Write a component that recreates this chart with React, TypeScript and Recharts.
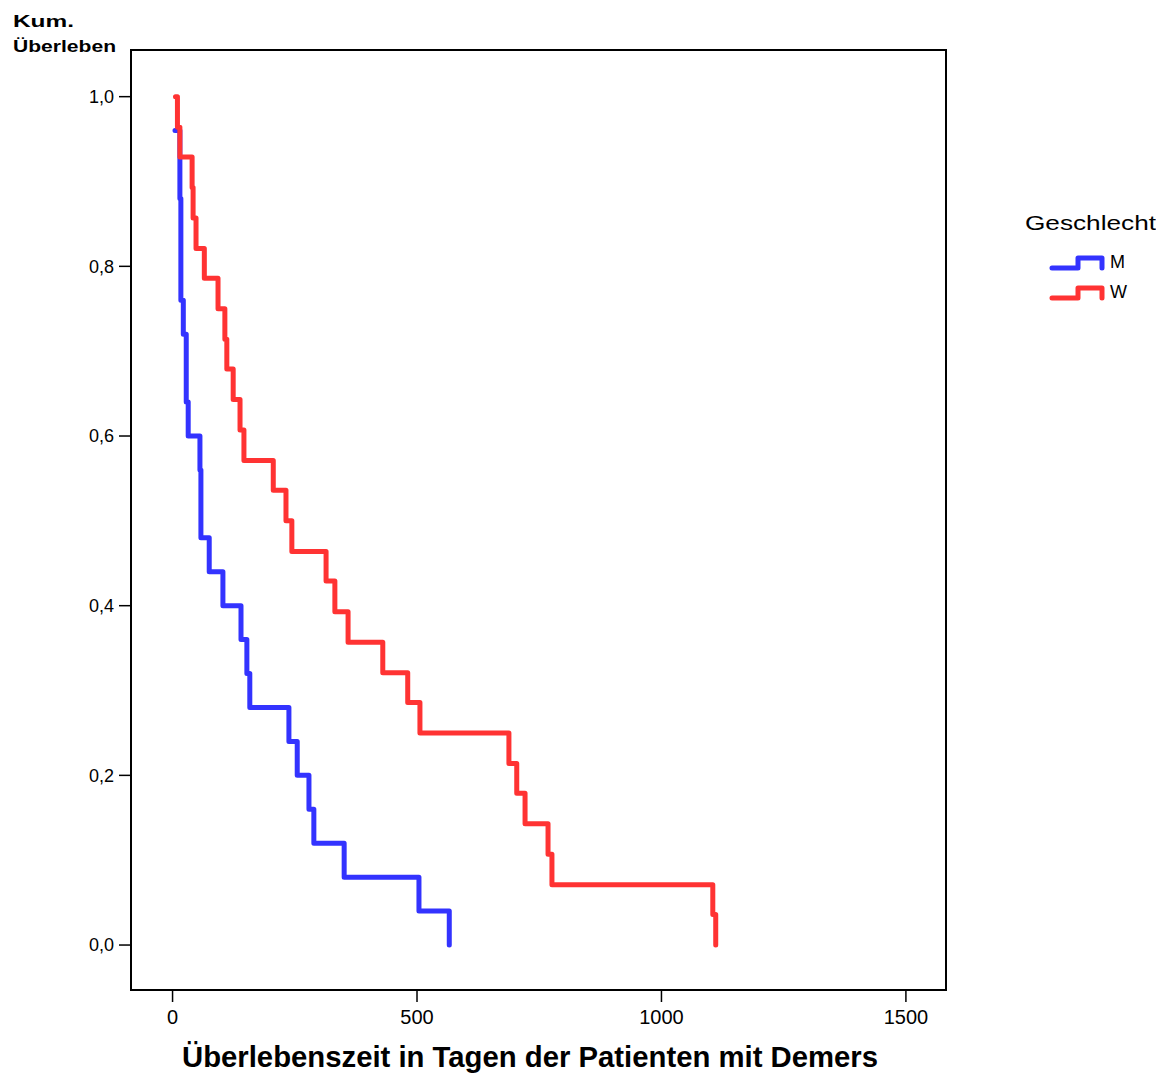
import { LineChart, Line, XAxis, YAxis, ReferenceArea } from 'recharts';

// Kaplan-Meier steps, time in days / cumulative survival
const mTimes = [5, 15, 17, 22, 28, 32, 56, 58, 75, 103, 140, 152, 158, 238, 255, 279, 289, 351, 504, 566];
const mSurvival = [0.96, 0.88, 0.76, 0.72, 0.64, 0.6, 0.56, 0.48, 0.44, 0.4, 0.36, 0.32, 0.28, 0.24, 0.2, 0.16, 0.12, 0.08, 0.04, 0];

const wTimes = [6, 10, 15, 40, 42, 48, 65, 93, 107, 111, 124, 138, 146, 206, 232, 244, 314, 332, 359, 430, 481, 506, 688, 704, 721, 768, 776, 1105, 1111];
const wSurvival = [1.0, 0.964, 0.929, 0.893, 0.857, 0.821, 0.786, 0.75, 0.714, 0.679, 0.643, 0.607, 0.571, 0.536, 0.5, 0.464, 0.429, 0.393, 0.357, 0.321, 0.286, 0.25, 0.214, 0.179, 0.143, 0.107, 0.071, 0.036, 0];

const xTicks = [0, 500, 1000, 1500];
const yTicks = [0, 0.2, 0.4, 0.6, 0.8, 1.0];

const series = [
  { name: 'M', color: '#3333ff', data: mTimes.map((t, i) => ({ t, s: mSurvival[i] })) },
  { name: 'W', color: '#ff3333', data: wTimes.map((t, i) => ({ t, s: wSurvival[i] })) },
];

const FONT = '"Liberation Sans", Arial, sans-serif';
const W = 1156;
const H = 1066;
const X_DOMAIN: [number, number] = [-85, 1582];
const Y_DOMAIN: [number, number] = [-0.053, 1.055];

const fmt = (v: number) => v.toFixed(1).replace('.', ',');

const XTitle = () => (
  <text
    x={522}
    y={1059}
    textAnchor="middle"
    fontFamily={FONT}
    fontWeight="bold"
    fontSize={30}
    textLength={696}
    lengthAdjust="spacingAndGlyphs"
    fill="#000"
  >
    Überlebenszeit in Tagen der Patienten mit Demers
  </text>
);

const YTitle = () => (
  <g fontFamily={FONT} fontWeight="bold" fontSize={17} fill="#000">
    <text x={5} y={19} textLength={61} lengthAdjust="spacingAndGlyphs">Kum.</text>
    <text x={5} y={44} textLength={103} lengthAdjust="spacingAndGlyphs">Überleben</text>
  </g>
);

const LegendBox = () => (
  <svg width={W} height={H} style={{ position: 'absolute', left: 0, top: 0, pointerEvents: 'none' }}>
    <text x={1017} y={222} fontFamily={FONT} fontSize={21} textLength={131} lengthAdjust="spacingAndGlyphs" fill="#000">
      Geschlecht
    </text>
    {series.map((s, i) => {
      const base = 260 + i * 30;
      return (
        <g key={s.name}>
          <path
            d={`M1044 ${base} H1070 V${base - 10} H1094 V${base}`}
            fill="none"
            stroke={s.color}
            strokeWidth={5}
            strokeLinecap="round"
            strokeLinejoin="round"
          />
          <text x={1102} y={base} fontFamily={FONT} fontSize={18} fill="#000">
            {s.name}
          </text>
        </g>
      );
    })}
  </svg>
);

export default function App() {
  return (
    <div style={{ position: 'relative', width: W, height: H }}>
      <LineChart width={W} height={H} margin={{ top: 42, right: 218, bottom: 0, left: 0 }}>
        <XAxis
          type="number"
          dataKey="t"
          domain={X_DOMAIN}
          ticks={xTicks}
          allowDataOverflow
          height={84}
          axisLine={{ stroke: '#000', strokeWidth: 2 }}
          tickLine={{ stroke: '#000', strokeWidth: 1.5 }}
          tickSize={12}
          tickMargin={8}
          tick={{ fill: '#000', fontSize: 20, fontFamily: FONT }}
          label={{ content: () => <XTitle /> }}
        />
        <YAxis
          type="number"
          domain={Y_DOMAIN}
          ticks={yTicks}
          allowDataOverflow
          width={123}
          tickFormatter={fmt}
          axisLine={{ stroke: '#000', strokeWidth: 2 }}
          tickLine={{ stroke: '#000', strokeWidth: 1.5 }}
          tickSize={12}
          tickMargin={5}
          tick={{ fill: '#000', fontSize: 18, fontFamily: FONT }}
          label={{ content: () => <YTitle /> }}
        />
        <ReferenceArea
          x1={X_DOMAIN[0]}
          x2={X_DOMAIN[1]}
          y1={Y_DOMAIN[0]}
          y2={Y_DOMAIN[1]}
          fill="none"
          stroke="#000"
          strokeWidth={2}
        />
        {series.map((s) => (
          <Line
            key={s.name}
            data={s.data}
            dataKey="s"
            name={s.name}
            type="stepAfter"
            stroke={s.color}
            strokeWidth={5}
            strokeLinecap="round"
            strokeLinejoin="round"
            dot={false}
            activeDot={false}
            isAnimationActive={false}
          />
        ))}
      </LineChart>
      <LegendBox />
    </div>
  );
}
